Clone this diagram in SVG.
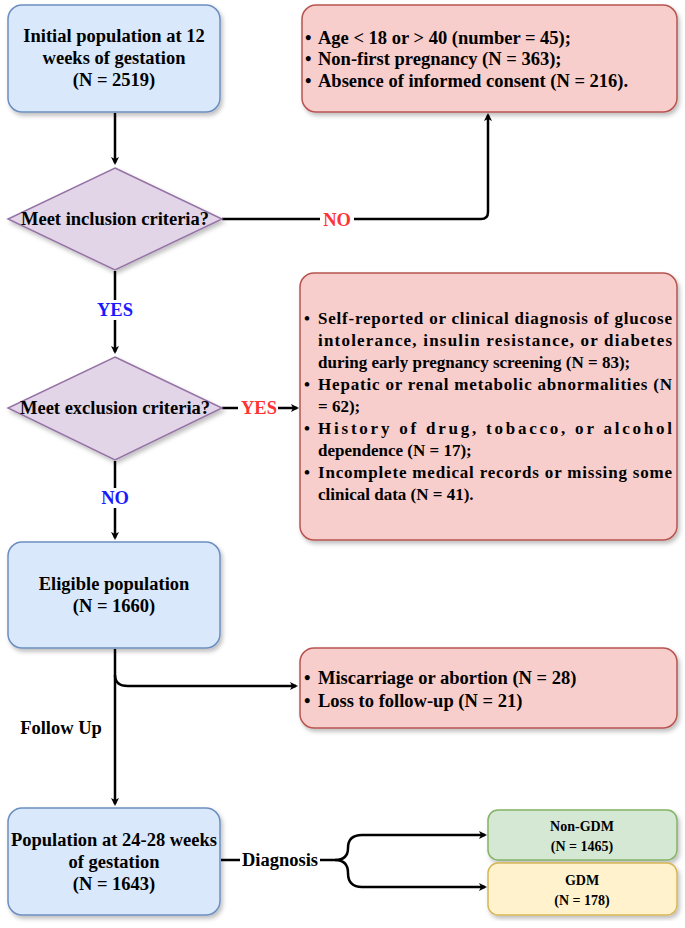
<svg xmlns="http://www.w3.org/2000/svg" width="685" height="928" viewBox="0 0 685 928">
<style>
text{font-family:"Liberation Serif","Times New Roman",serif;font-weight:bold;font-size:18.5px;fill:#000}
.c{text-anchor:middle}
.m{font-size:17px}
.blue{fill:#dae8fc;stroke:#6c8ebf;stroke-width:1.5}
.red{fill:#f8cecc;stroke:#b85450;stroke-width:1.5}
.pur{fill:#e1d5e7;stroke:#9673a6;stroke-width:1.5}
.grn{fill:#d5e8d4;stroke:#82b366;stroke-width:1.5}
.yel{fill:#fff2cc;stroke:#d6b656;stroke-width:1.5}
.ln{fill:none;stroke:#000;stroke-width:2.5;marker-end:url(#a)}
.ln2{fill:none;stroke:#000;stroke-width:2.5}
.bg{fill:#fff}
</style>
<defs>
<marker id="a" markerWidth="8" markerHeight="8" refX="6" refY="4" orient="auto" markerUnits="userSpaceOnUse" viewBox="0 0 8 8"><path d="M0,0 L8,4 L0,8 L2,4 Z" fill="#000"/></marker>
<filter id="s" x="-5%" y="-5%" width="115%" height="115%"><feDropShadow dx="2" dy="3" stdDeviation="2" flood-opacity="0.25"/></filter>
</defs>
<rect width="685" height="928" fill="#fff"/>
<g id="connectors">
<path class="ln" d="M115,113 V163"/>
<path class="ln" d="M222,219 H481 Q488,219 488,212 V115"/>
<path class="ln" d="M115,271 V352"/>
<path class="ln2" d="M222,408 H238"/>
<path class="ln" d="M278,408 H297"/>
<path class="ln" d="M115,461 V538"/>
<path class="ln" d="M115,649 V804"/>
<path class="ln" d="M115,675 Q115,686 128,686 H296"/>
<path class="ln2" d="M221,860 H240"/>
<path class="ln" d="M320,860 H335 Q348,860 348,848 Q348,835 362,835 H485"/>
<path class="ln" d="M335,860 Q348,860 348,873 Q348,887 362,887 H485"/>
</g>
<g id="labels">
<rect class="bg" x="320" y="210" width="34" height="20"/>
<text x="337" y="226" class="c" style="fill:#ff3333">NO</text>
<rect class="bg" x="95" y="300" width="40" height="20"/>
<text x="115" y="316" class="c" style="fill:#1a1aff">YES</text>
<text x="259" y="414" class="c" style="fill:#ff3333">YES</text>
<rect class="bg" x="98" y="488" width="34" height="20"/>
<text x="115" y="504" class="c" style="fill:#1a1aff">NO</text>
<text x="61" y="734" class="c">Follow Up</text>
<text x="280" y="866" class="c">Diagnosis</text>
</g>
<g id="n1"><rect class="blue" filter="url(#s)" x="8" y="5" width="212" height="107" rx="14"/>
<text x="114" y="42" class="c">Initial population at 12</text><text x="114" y="64" class="c">weeks of gestation</text><text x="114" y="86" class="c">(N = 2519)</text></g>
<g id="n2"><path class="pur" filter="url(#s)" d="M115,168 L222,219 L115,270 L8,219 Z"/><text x="115" y="225" class="c">Meet inclusion criteria?</text></g>
<g id="n3"><rect class="red" filter="url(#s)" x="302" y="5" width="375" height="107" rx="14"/>
<text x="305" y="44">•</text><text x="318" y="44">Age &lt; 18 or &gt; 40 (number = 45);</text>
<text x="305" y="65">•</text><text x="318" y="65">Non-first pregnancy (N = 363);</text>
<text x="305" y="87">•</text><text x="318" y="87">Absence of informed consent (N = 216).</text></g>
<g id="n4"><path class="pur" filter="url(#s)" d="M115,357 L222,408 L115,460 L8,408 Z"/><text x="115" y="414" class="c">Meet exclusion criteria?</text></g>
<g id="n5" class="m"><rect class="red" filter="url(#s)" x="300" y="273" width="377" height="267" rx="14"/>
<text class="m" x="304" y="324">•</text><text class="m" x="318" y="324" textLength="354" lengthAdjust="spacing">Self-reported or clinical diagnosis of glucose</text>
<text class="m" x="318" y="346" textLength="354" lengthAdjust="spacing">intolerance, insulin resistance, or diabetes</text>
<text class="m" x="318" y="368">during early pregnancy screening (N = 83);</text>
<text class="m" x="304" y="390">•</text><text class="m" x="318" y="390" textLength="354" lengthAdjust="spacing">Hepatic or renal metabolic abnormalities (N</text>
<text class="m" x="318" y="412">= 62);</text>
<text class="m" x="304" y="434">•</text><text class="m" x="318" y="434" textLength="354" lengthAdjust="spacing">History of drug, tobacco, or alcohol</text>
<text class="m" x="318" y="456">dependence (N = 17);</text>
<text class="m" x="304" y="478">•</text><text class="m" x="318" y="478" textLength="354" lengthAdjust="spacing">Incomplete medical records or missing some</text>
<text class="m" x="318" y="500">clinical data (N = 41).</text></g>
<g id="n6"><rect class="blue" filter="url(#s)" x="8" y="542" width="212" height="106" rx="14"/>
<text x="114" y="590" class="c">Eligible population</text><text x="114" y="612" class="c">(N = 1660)</text></g>
<g id="n7"><rect class="red" filter="url(#s)" x="300" y="648" width="377" height="80" rx="14"/>
<text x="304" y="684">•</text><text x="318" y="684">Miscarriage or abortion (N = 28)</text>
<text x="304" y="707">•</text><text x="318" y="707">Loss to follow-up (N = 21)</text></g>
<g id="n8"><rect class="blue" filter="url(#s)" x="8" y="808" width="212" height="107" rx="14"/>
<text x="114" y="846" class="c">Population at 24-28 weeks</text><text x="114" y="868" class="c">of gestation</text><text x="114" y="890" class="c">(N = 1643)</text></g>
<g id="n9"><rect class="grn" filter="url(#s)" x="488" y="810" width="189" height="50" rx="10"/>
<text x="582" y="831" class="c" style="font-size:14px">Non-GDM</text><text x="582" y="851" class="c" style="font-size:14px">(N = 1465)</text></g>
<g id="n10"><rect class="yel" filter="url(#s)" x="488" y="863" width="189" height="52" rx="10"/>
<text x="582" y="885" class="c" style="font-size:14px">GDM</text><text x="582" y="905" class="c" style="font-size:14px">(N = 178)</text></g>
</svg>
